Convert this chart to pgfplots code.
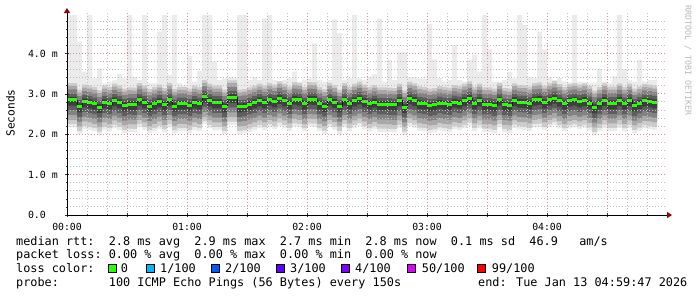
\documentclass[border=0pt]{standalone}
\usepackage{fontspec}
\setmainfont{DejaVu Sans Mono}
\usepackage{pgfplots}
\pgfplotsset{compat=1.18}
\usepackage{pgfplotstable}
\usepgfplotslibrary{fillbetween}
\usetikzlibrary{arrows.meta}
\definecolor{sm0}{HTML}{EBEBEB}
\definecolor{sm1}{HTML}{CCCCCC}
\definecolor{sm2}{HTML}{A8A8A8}
\definecolor{sm3}{HTML}{828282}
\definecolor{sm4}{HTML}{5E5E5E}
\definecolor{sm5}{HTML}{3E3E3E}
\definecolor{mgrid}{HTML}{DE9090}
\definecolor{ngrid}{HTML}{BEBEBE}
\definecolor{arrowred}{HTML}{960000}
\definecolor{lc0}{HTML}{26FF00}
\definecolor{lc1}{HTML}{00B8FF}
\definecolor{lc2}{HTML}{0059FF}
\definecolor{lc3}{HTML}{5E00FF}
\definecolor{lc4}{HTML}{7E00FF}
\definecolor{lc50}{HTML}{DD00FF}
\definecolor{lc99}{HTML}{FF0000}
\definecolor{wmark}{HTML}{B8B8B8}

\pgfplotstableread{
t med max
0 2.847 4.95
1 2.847 4.95
2 2.681 4.29
3 2.805 3.55
4 2.780 4.95
5 2.748 3.38
6 2.665 3.63
7 2.780 3.26
8 2.748 3.28
9 2.830 3.33
10 2.780 3.49
11 2.706 3.38
12 2.739 4.95
13 2.731 3.42
14 2.847 3.34
15 2.780 4.95
16 2.698 3.26
17 2.748 3.26
18 2.805 4.54
19 2.723 4.95
20 2.847 3.47
21 2.698 4.95
22 2.748 3.26
23 2.748 3.22
24 2.706 3.94
25 2.780 3.30
26 2.748 3.56
27 2.921 4.95
28 2.830 4.95
29 2.780 3.80
30 2.780 3.34
31 2.681 3.38
32 2.913 3.42
33 2.913 3.38
34 2.681 4.95
35 2.698 4.95
36 2.739 3.34
37 2.780 3.42
38 2.830 3.34
39 2.780 4.87
40 2.847 4.95
41 2.805 3.34
42 2.888 3.30
43 2.830 3.34
44 2.756 3.38
45 2.871 3.55
46 2.847 3.30
47 2.748 3.34
48 2.871 3.38
49 2.863 4.25
50 2.748 3.34
51 2.690 3.30
52 2.847 3.34
53 2.789 4.84
54 2.681 4.50
55 2.847 3.34
56 2.756 3.38
57 2.830 4.95
58 2.880 3.38
59 2.805 3.34
60 2.748 3.42
61 2.797 3.49
62 2.739 4.87
63 2.739 3.30
64 2.731 3.84
65 2.723 3.34
66 2.830 4.04
67 2.665 4.04
68 2.880 3.42
69 2.838 3.42
70 2.764 3.38
71 2.748 3.38
72 2.706 4.73
73 2.723 3.85
74 2.772 3.38
75 2.748 3.30
76 2.731 3.34
77 2.797 4.21
78 2.772 3.34
79 2.830 3.30
80 2.888 3.84
81 2.756 3.96
82 2.830 3.55
83 2.739 4.95
84 2.739 4.10
85 2.706 3.30
86 2.847 3.30
87 2.723 3.34
88 2.706 3.55
89 2.838 3.38
90 2.797 4.95
91 2.789 4.70
92 2.756 3.42
93 2.847 3.38
94 2.863 4.54
95 2.780 4.10
96 2.847 3.42
97 2.896 3.34
98 2.822 3.38
99 2.748 3.30
100 2.822 3.28
101 2.847 4.95
102 2.805 3.30
103 2.838 3.28
104 2.772 3.26
105 2.657 3.26
106 2.748 3.61
107 2.838 3.30
108 2.756 3.26
109 2.756 3.44
110 2.838 4.95
111 2.748 3.61
112 2.830 3.34
113 2.706 3.30
114 2.764 3.84
115 2.822 3.30
116 2.805 3.34
117 2.780 3.34
118 2.780 3.34
}\smokedata

\newcommand{\smokeband}[4]{%
  \addplot[draw=none, const plot, name path=#4l, forget plot] table[x=t, y expr=\thisrow{med}#1] {\smokedata};
  \addplot[draw=none, const plot, name path=#4u, forget plot] table[x=t, y expr=\thisrow{med}#2] {\smokedata};
  \addplot[fill=#3, draw=none, forget plot] fill between[of=#4l and #4u];
}

\begin{document}
\begin{tikzpicture}[x=1bp,y=1bp]
\path (0,0) rectangle (697,297);
\begin{axis}[
  at={(67bp,82bp)}, anchor=south west,
  scale only axis, width=600bp, height=202bp,
  xmin=0, xmax=120, ymin=0, ymax=5,
  axis lines*=left,
  axis on top,
  xtick={0,12,24,36,48,60,72,84,96,108},
  xticklabels={00:00,,01:00,,02:00,,03:00,,04:00,},
  minor xtick={4,8,16,20,28,32,40,44,52,56,64,68,76,80,88,92,100,104,112,116},
  ytick={0,1,2,3,4},
  yticklabels={0.0\phantom{xx},1.0 m,2.0 m,3.0 m,4.0 m},
  minor ytick={0.2,0.4,0.6,0.8,1.2,1.4,1.6,1.8,2.2,2.4,2.6,2.8,3.2,3.4,3.6,3.8,4.2,4.4,4.6,4.8},
  grid=both,
  major grid style={draw=mgrid, line width=0.9bp, dash pattern=on 1bp off 2bp},
  minor grid style={draw=ngrid, line width=0.9bp, dash pattern=on 1bp off 2bp},
  tick align=center,
  major tick length=4bp, minor tick length=2bp,
  tick style={draw=black!80, line width=0.6bp},
  axis line style={draw=black, line width=1bp},
  x axis line style={-{Triangle[length=5bp,width=6bp,color=arrowred]}, shorten >=-5bp},
  y axis line style={-{Triangle[length=5bp,width=6bp,color=arrowred]}, shorten >=-5bp},
  xticklabel style={font=\fontsize{9.8bp}{10bp}\selectfont, inner sep=0pt, yshift=-5.7bp},
  yticklabel style={font=\fontsize{9.9bp}{10bp}\selectfont, inner sep=0pt, xshift=-7bp},
]
% outer envelope min..max
\addplot[draw=none, const plot, name path=b0l, forget plot] table[x=t, y expr=\thisrow{med}-0.68] {\smokedata};
\addplot[draw=none, const plot, name path=b0u, forget plot] table[x=t, y=max] {\smokedata};
\addplot[fill=sm0, draw=none, forget plot] fill between[of=b0l and b0u];
\smokeband{-0.60}{+0.42}{sm1}{ba}
\smokeband{-0.49}{+0.35}{sm2}{bb}
\smokeband{-0.37}{+0.26}{sm3}{bc}
\smokeband{-0.25}{+0.16}{sm4}{bd}
\smokeband{-0.14}{+0.08}{sm5}{be}
% median line: thin dark connectors, green loss-colour segments
\addplot[const plot, draw=black!90, line width=0.7bp, forget plot] table[x=t, y=med] {\smokedata};
\addplot[jump mark left, draw=lc0, line width=3bp, forget plot] table[x=t, y=med] {\smokedata};
\end{axis}
% y label
\node[rotate=90, inner sep=0pt, font=\fontsize{11.2bp}{12bp}\selectfont] at (10.5,184) {Seconds};
% watermark
\node[rotate=-90, anchor=west, inner sep=0pt, text=wmark, font=\fontsize{8.3bp}{9bp}\selectfont] at (688,292) {RRDTOOL / TOBI OETIKER};
% legend lines
\begin{scope}[every node/.style={anchor=base west, inner sep=0pt, font=\fontsize{11.84bp}{14bp}\selectfont}]
\node at (16,52) {median rtt:~~2.8 ms avg~~2.9 ms max~~2.7 ms min~~2.8 ms now~~0.1 ms sd~~46.9~~~am/s};
\node at (16,38.3) {packet loss:~0.00 \% avg~~0.00 \% max~~0.00 \% min~~0.00 \% now};
\node at (16,24.3) {loss color:};
\node at (120.7,24.3) {0};
\node at (160,24.3) {1/100};
\node at (225,24.3) {2/100};
\node at (290,24.3) {3/100};
\node at (355,24.3) {4/100};
\node at (421.7,24.3) {50/100};
\node at (491.7,24.3) {99/100};
\node at (16,10.3) {probe:};
\node at (108.7,10.3) {100 ICMP Echo Pings (56 Bytes) every 150s};
\node at (478,10.3) {end: Tue Jan 13 04:59:47 2026};
\end{scope}
\foreach \bx/\bc in {108/lc0,146/lc1,211/lc2,276/lc3,341.5/lc4,407/lc50,477/lc99}{
  \filldraw[fill=\bc, draw=black, line width=0.8bp] (\bx,24.6) rectangle ++(8.2,8.2);
}
\end{tikzpicture}
\end{document}
